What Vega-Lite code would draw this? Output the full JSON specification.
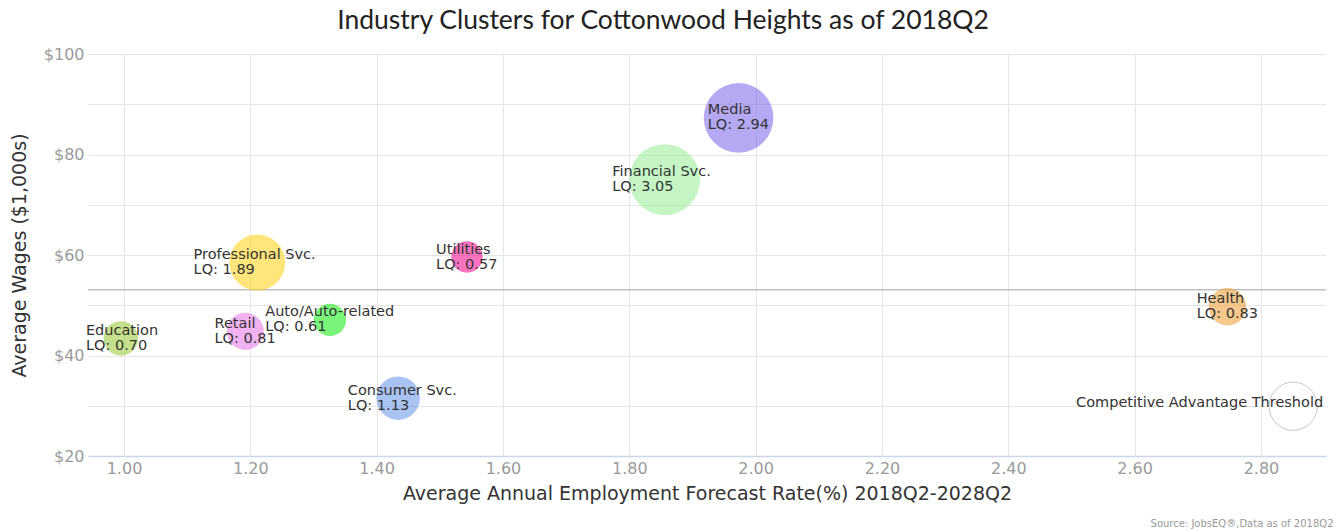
{
  "$schema": "https://vega.github.io/schema/vega-lite/v6.json",
  "width": 1238,
  "height": 402,
  "autosize": {"type": "none"},
  "padding": {"left": 88, "top": 54, "right": 12, "bottom": 75},
  "background": "white",
  "title": {
    "text": "Industry Clusters for Cottonwood Heights as of 2018Q2",
    "font": "Lato",
    "fontSize": 26.5,
    "fontWeight": "normal",
    "color": "#222222",
    "anchor": "middle",
    "dx": -44,
    "offset": 12
  },
  "config": {"view": {"stroke": null}},
  "datasets": {
    "clusters": [
      {"cluster": "Education", "rate": 0.995, "wage": 43.4, "lq": 0.70},
      {"cluster": "Retail", "rate": 1.192, "wage": 44.8, "lq": 0.81},
      {"cluster": "Auto/Auto-related", "rate": 1.326, "wage": 47.1, "lq": 0.61},
      {"cluster": "Professional Svc.", "rate": 1.211, "wage": 58.5, "lq": 1.89},
      {"cluster": "Consumer Svc.", "rate": 1.434, "wage": 31.5, "lq": 1.13},
      {"cluster": "Utilities", "rate": 1.543, "wage": 59.6, "lq": 0.57},
      {"cluster": "Financial Svc.", "rate": 1.856, "wage": 75.0, "lq": 3.05},
      {"cluster": "Media", "rate": 1.973, "wage": 87.3, "lq": 2.94},
      {"cluster": "Health", "rate": 2.747, "wage": 49.7, "lq": 0.83}
    ],
    "threshold": [{"label": "Competitive Advantage Threshold", "rate": 2.851, "wage": 29.9}],
    "avg": [{"wage": 53.1}]
  },
  "resolve": {"axis": {"x": "independent"}},
  "layer": [
    {
      "data": {"name": "avg"},
      "mark": {"type": "rule", "color": "#c0c0c0", "strokeWidth": 1.5},
      "encoding": {
        "y": {"field": "wage", "type": "quantitative", "scale": {"domain": [20, 100], "nice": false, "zero": false}}
      }
    },
    {
      "data": {"name": "clusters"},
      "mark": {"type": "circle", "opacity": 0.6},
      "encoding": {
        "x": {
          "field": "rate", "type": "quantitative",
          "scale": {"domain": [0.943, 2.903], "nice": false, "zero": false},
          "axis": {
            "orient": "bottom",
            "values": [1.0, 1.2, 1.4, 1.6, 1.8, 2.0, 2.2, 2.4, 2.6, 2.8],
            "format": ".2f",
            "title": "Average Annual Employment Forecast Rate(%) 2018Q2-2028Q2",
            "titleFont": "DejaVu Sans",
            "titleFontSize": 19,
            "titleFontWeight": "normal",
            "titleColor": "#333333",
            "titlePadding": 8,
            "labelFont": "DejaVu Sans",
            "labelFontSize": 16,
            "labelColor": "#9a9a9a",
            "labelPadding": 4,
            "ticks": false,
            "domainColor": "#ccd6eb",
            "domainWidth": 1.5,
            "grid": true,
            "gridColor": "#e6e6e6"
          }
        },
        "y": {
          "field": "wage", "type": "quantitative",
          "scale": {"domain": [20, 100], "nice": false, "zero": false},
          "axis": {
            "values": [20, 30, 40, 50, 60, 70, 80, 90, 100],
            "labelExpr": "datum.value % 20 === 0 ? '$' + datum.value : ''",
            "title": "Average Wages ($1,000s)",
            "titleFont": "DejaVu Sans",
            "titleFontSize": 19,
            "titleFontWeight": "normal",
            "titleColor": "#333333",
            "titlePadding": 14,
            "labelFont": "DejaVu Sans",
            "labelFontSize": 16,
            "labelColor": "#9a9a9a",
            "labelPadding": 4,
            "ticks": false,
            "domain": false,
            "grid": true,
            "gridColor": "#e6e6e6"
          }
        },
        "size": {
          "field": "lq", "type": "quantitative",
          "scale": {"domain": [0, 3.05], "range": [50, 5027]},
          "legend": null
        },
        "color": {
          "field": "cluster", "type": "nominal",
          "scale": {
            "domain": ["Education", "Retail", "Auto/Auto-related", "Professional Svc.", "Consumer Svc.", "Utilities", "Financial Svc.", "Media", "Health"],
            "range": ["#9ecb3f", "#e67fe6", "#21ee21", "#ffd421", "#709be9", "#f71693", "#9eee9e", "#8470eb", "#f0a33f"]
          },
          "legend": null
        }
      }
    },
    {
      "data": {"name": "threshold"},
      "mark": {"type": "circle", "fill": "white", "stroke": "#c8c8c8", "strokeWidth": 1, "opacity": 1, "size": 2324},
      "encoding": {
        "x": {"field": "rate", "type": "quantitative", "axis": null},
        "y": {"field": "wage", "type": "quantitative"}
      }
    },
    {
      "data": {"name": "clusters"},
      "transform": [
        {"calculate": "datum.cluster + '\\n' + 'LQ: ' + format(datum.lq, '.2f')", "as": "label"}
      ],
      "mark": {
        "type": "text",
        "align": "left",
        "baseline": "middle",
        "lineBreak": "\n",
        "lineHeight": 15,
        "font": "DejaVu Sans",
        "fontSize": 14.5,
        "color": "#333333",
        "dy": -7.5,
        "dx": {"expr": "-0.5 * max(8.2 * length(datum.cluster) - 2 * length(replace(datum.cluster, regexp('[^iltfrj. ]', 'g'), '')), 61.6)"}
      },
      "encoding": {
        "x": {"field": "rate", "type": "quantitative", "axis": null},
        "y": {"field": "wage", "type": "quantitative"},
        "text": {"field": "label", "type": "nominal"}
      }
    },
    {
      "data": {"name": "threshold"},
      "mark": {
        "type": "text",
        "align": "right",
        "baseline": "middle",
        "font": "DejaVu Sans",
        "fontSize": 14.5,
        "color": "#333333",
        "dx": 30,
        "dy": -3
      },
      "encoding": {
        "x": {
          "field": "rate", "type": "quantitative",
          "axis": {
            "orient": "bottom",
            "title": "Source: JobsEQ®,Data as of 2018Q2",
            "titleFont": "DejaVu Sans",
            "titleFontSize": 10,
            "titleFontWeight": "normal",
            "titleColor": "#999999",
            "titleX": 1245,
            "titleY": 70,
            "titleAlign": "right",
            "titleBaseline": "alphabetic",
            "labels": false,
            "ticks": false,
            "domain": false,
            "grid": false
          }
        },
        "y": {"field": "wage", "type": "quantitative"},
        "text": {"field": "label", "type": "nominal"}
      }
    }
  ]
}
